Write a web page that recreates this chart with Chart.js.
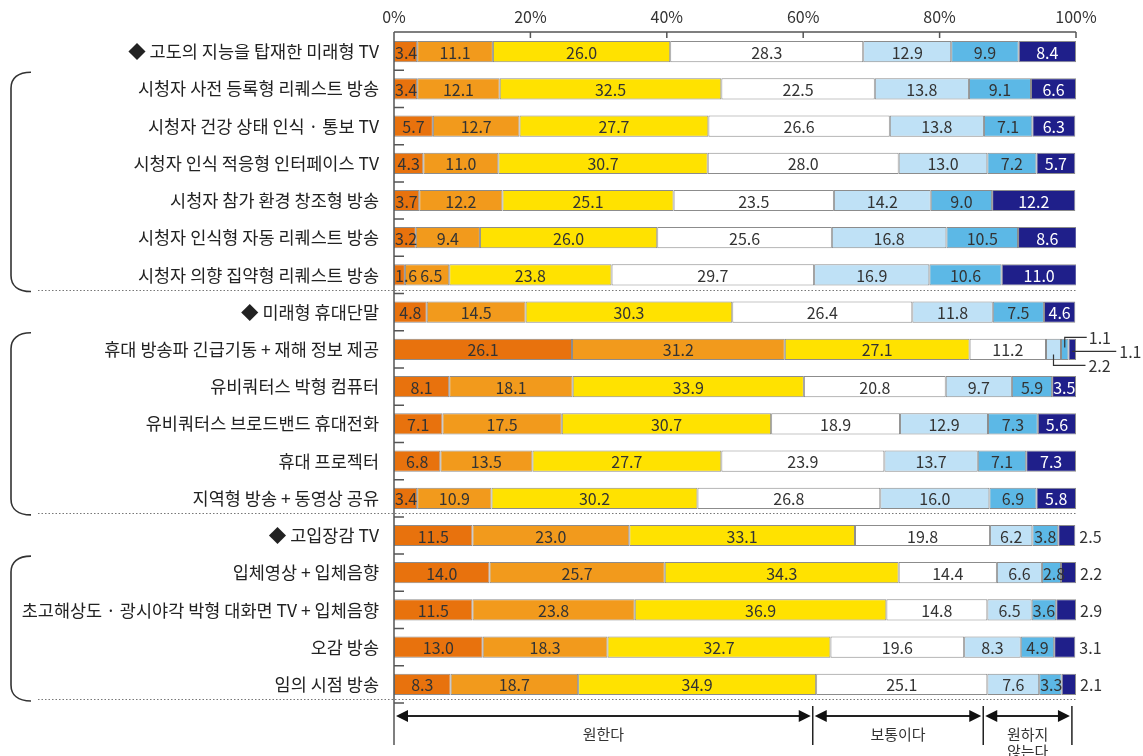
<!DOCTYPE html>
<html lang="ko">
<head>
<meta charset="utf-8">
<title>미래형 방송 서비스 이용 의향</title>
<script src="https://cdn.jsdelivr.net/npm/chart.js@4.4.1/dist/chart.umd.min.js"></script>
<style>
  html, body { margin: 0; padding: 0; background: #fff; }
  #wrap { width: 1143px; height: 756px; }
</style>
</head>
<body>
<div id="wrap"><canvas id="chart" width="1143" height="756"></canvas></div>
<script>
const categories = [
  '◆ 고도의 지능을 탑재한 미래형 TV',
  '시청자 사전 등록형 리퀘스트 방송',
  '시청자 건강 상태 인식 · 통보 TV',
  '시청자 인식 적응형 인터페이스 TV',
  '시청자 참가 환경 창조형 방송',
  '시청자 인식형 자동 리퀘스트 방송',
  '시청자 의향 집약형 리퀘스트 방송',
  '◆ 미래형 휴대단말',
  '휴대 방송파 긴급기동 + 재해 정보 제공',
  '유비쿼터스 박형 컴퓨터',
  '유비쿼터스 브로드밴드 휴대전화',
  '휴대 프로젝터',
  '지역형 방송 + 동영상 공유',
  '◆ 고입장감 TV',
  '입체영상 + 입체음향',
  '초고해상도 · 광시야각 박형 대화면 TV + 입체음향',
  '오감 방송',
  '임의 시점 방송'
];

// answer shares in %, from "strongly want" to "strongly don't want"
const want3 = [3.4, 3.4, 5.7, 4.3, 3.7, 3.2, 1.6, 4.8, 26.1, 8.1, 7.1, 6.8, 3.4, 11.5, 14.0, 11.5, 13.0, 8.3];
const want2 = [11.1, 12.1, 12.7, 11.0, 12.2, 9.4, 6.5, 14.5, 31.2, 18.1, 17.5, 13.5, 10.9, 23.0, 25.7, 23.8, 18.3, 18.7];
const want1 = [26.0, 32.5, 27.7, 30.7, 25.1, 26.0, 23.8, 30.3, 27.1, 33.9, 30.7, 27.7, 30.2, 33.1, 34.3, 36.9, 32.7, 34.9];
const neutral = [28.3, 22.5, 26.6, 28.0, 23.5, 25.6, 29.7, 26.4, 11.2, 20.8, 18.9, 23.9, 26.8, 19.8, 14.4, 14.8, 19.6, 25.1];
const notWant1 = [12.9, 13.8, 13.8, 13.0, 14.2, 16.8, 16.9, 11.8, 2.2, 9.7, 12.9, 13.7, 16.0, 6.2, 6.6, 6.5, 8.3, 7.6];
const notWant2 = [9.9, 9.1, 7.1, 7.2, 9.0, 10.5, 10.6, 7.5, 1.1, 5.9, 7.3, 7.1, 6.9, 3.8, 2.8, 3.6, 4.9, 3.3];
const notWant3 = [8.4, 6.6, 6.3, 5.7, 12.2, 8.6, 11.0, 4.6, 1.1, 3.5, 5.6, 7.3, 5.8, 2.5, 2.2, 2.9, 3.1, 2.1];

const xTicks = [0, 20, 40, 60, 80, 100];

// answer groups shown under the bars, split points in % of the x axis
const groupEdges = [0, 61.4, 86.4, 99.4];
const groupNames = [['원한다'], ['보통이다'], ['원하지', '않는다']];

// row ranges tied together by a bracket, and the rows closing each block
const bracketRows = [[1, 6], [8, 12], [14, 17]];
const blockEnds = [6, 12, 17];

const FONT = "'Noto Sans CJK KR', 'Noto Sans', sans-serif";
const INK = '#333';
const colors = ['#e8720d', '#f29a1c', '#ffe200', '#ffffff', '#bfe1f6', '#5cb8e6', '#1f1f8a'];
const series = [want3, want2, want1, neutral, notWant1, notWant2, notWant3];

Chart.defaults.font.family = FONT;

function arrowHead(ctx, x, y, dir) {
  ctx.beginPath();
  ctx.moveTo(x, y);
  ctx.lineTo(x - dir * 12, y - 6);
  ctx.lineTo(x - dir * 12, y + 6);
  ctx.closePath();
  ctx.fill();
}

const framePlugin = {
  id: 'frame',
  afterDatasetsDraw(chart) {
    const { ctx, chartArea: area, scales: { x, y } } = chart;
    const pitch = y.getPixelForValue(1) - y.getPixelForValue(0);
    ctx.save();
    ctx.strokeStyle = '#555';
    ctx.lineWidth = 1.5;

    // top axis line with ticks hanging down
    ctx.beginPath();
    ctx.moveTo(area.left, area.top - 1);
    ctx.lineTo(area.right, area.top - 1);
    xTicks.slice(1).forEach(v => {
      const px = x.getPixelForValue(v);
      ctx.moveTo(px, area.top - 1);
      ctx.lineTo(px, area.top + 5);
    });
    // left axis runs on into the answer group arrows
    ctx.moveTo(area.left, area.top - 1);
    ctx.lineTo(area.left, area.bottom + 42);
    // short marks between rows
    categories.forEach((c, i) => {
      const by = y.getPixelForValue(i) + pitch / 2;
      ctx.moveTo(area.left, by);
      ctx.lineTo(area.left + 10, by);
    });
    ctx.stroke();

    // dotted lines closing each block
    ctx.strokeStyle = '#777';
    ctx.lineWidth = 1;
    ctx.setLineDash([1.5, 2]);
    ctx.beginPath();
    blockEnds.forEach(r => {
      const dy = Math.round(y.getPixelForValue(r) + pitch / 2 - 4) + 0.5;
      ctx.moveTo(38, dy);
      ctx.lineTo(area.right, dy);
    });
    ctx.stroke();
    ctx.setLineDash([]);

    // brackets on the left
    ctx.strokeStyle = '#333';
    ctx.lineWidth = 1.6;
    bracketRows.forEach(([r0, r1]) => {
      const top = y.getPixelForValue(r0) - pitch / 2 + 2;
      const bottom = y.getPixelForValue(r1) + pitch / 2 - 2;
      ctx.beginPath();
      ctx.moveTo(31, top);
      ctx.bezierCurveTo(18, top, 11, top + 6, 11, top + 16);
      ctx.lineTo(11, bottom - 16);
      ctx.bezierCurveTo(11, bottom - 6, 18, bottom, 31, bottom);
      ctx.stroke();
    });

    // answer group arrows under the chart
    const ay = area.bottom + 13;
    const edges = groupEdges.map(v => x.getPixelForValue(v));
    ctx.strokeStyle = '#222';
    ctx.fillStyle = '#111';
    ctx.lineWidth = 1.5;
    ctx.beginPath();
    edges.slice(1).forEach(px => {
      ctx.moveTo(px, area.bottom + 3);
      ctx.lineTo(px, area.bottom + 42);
    });
    ctx.stroke();
    ctx.lineWidth = 2;
    ctx.font = '15px ' + FONT;
    ctx.textAlign = 'center';
    ctx.textBaseline = 'middle';
    for (let g = 0; g < groupNames.length; g++) {
      const x1 = edges[g] + 2, x2 = edges[g + 1] - 2;
      ctx.beginPath();
      ctx.moveTo(x1 + 6, ay);
      ctx.lineTo(x2 - 6, ay);
      ctx.stroke();
      arrowHead(ctx, x1, ay, -1);
      arrowHead(ctx, x2, ay, 1);
      ctx.fillStyle = INK;
      groupNames[g].forEach((t, k) => ctx.fillText(t, (x1 + x2) / 2, area.bottom + 31 + k * 17));
      ctx.fillStyle = '#111';
    }
    ctx.restore();
  }
};

const valuePlugin = {
  id: 'values',
  afterDatasetsDraw(chart) {
    const { ctx } = chart;
    ctx.save();
    ctx.font = '16px ' + FONT;
    ctx.textBaseline = 'middle';
    ctx.textAlign = 'center';
    categories.forEach((c, i) => {
      let prevRight = -Infinity;
      series.forEach((values, d) => {
        const v = values[i];
        const el = chart.getDatasetMeta(d).data[i];
        const text = v.toFixed(1);
        // the emergency-broadcast row has three slivers labelled by leader lines
        if (i === 8 && d >= 4) return;
        if (d === 6 && v < 3.2) {
          ctx.fillStyle = INK;
          ctx.textAlign = 'left';
          ctx.fillText(text, el.x + 4, el.y + 1);
          ctx.textAlign = 'center';
          return;
        }
        const w = ctx.measureText(text).width;
        let cx = (el.x + el.base) / 2;
        if (cx - w / 2 < el.base + 1) cx = el.base + 1 + w / 2;
        if (cx - w / 2 < prevRight + 3) cx = prevRight + 3 + w / 2;
        prevRight = cx + w / 2;
        ctx.fillStyle = d === 6 ? '#fff' : INK;
        ctx.fillText(text, cx, el.y + 1);
      });
    });

    // leader lines for row 9
    const mid = d => (chart.getDatasetMeta(d).data[8].x + chart.getDatasetMeta(d).data[8].base) / 2;
    const yc = chart.getDatasetMeta(4).data[8].y;
    ctx.strokeStyle = '#333';
    ctx.lineWidth = 1.2;
    ctx.fillStyle = INK;
    ctx.textAlign = 'left';
    ctx.beginPath();
    const xb = mid(5);
    ctx.moveTo(xb, yc - 2); ctx.lineTo(xb, yc - 12); ctx.lineTo(xb + 22, yc - 12);
    const xn = mid(6);
    ctx.moveTo(xn, yc + 2); ctx.lineTo(xn + 44, yc + 2);
    const xl = mid(4);
    ctx.moveTo(xl, yc + 5); ctx.lineTo(xl, yc + 16); ctx.lineTo(xl + 32, yc + 16);
    ctx.stroke();
    ctx.fillText(notWant2[8].toFixed(1), xb + 24, yc - 11);
    ctx.fillText(notWant3[8].toFixed(1), xn + 47, yc + 3);
    ctx.fillText(notWant1[8].toFixed(1), xl + 35, yc + 17);
    ctx.restore();
  }
};

new Chart(document.getElementById('chart'), {
  type: 'bar',
  data: {
    labels: categories,
    datasets: series.map((data, d) => ({
      data: data,
      backgroundColor: colors[d],
      borderColor: '#8c8c8c',
      borderWidth: 1,
      borderSkipped: false,
      barPercentage: 0.57,
      categoryPercentage: 1
    }))
  },
  options: {
    indexAxis: 'y',
    responsive: false,
    animation: false,
    layout: { padding: { left: 0, right: 67, top: 0, bottom: 53 } },
    plugins: {
      legend: { display: false },
      tooltip: { enabled: false }
    },
    scales: {
      x: {
        position: 'top',
        stacked: true,
        min: 0,
        max: 100,
        afterBuildTicks: scale => { scale.ticks = xTicks.map(v => ({ value: v })); },
        afterFit: scale => { scale.height = 33; },
        ticks: {
          callback: v => v + '%',
          font: { size: 16 },
          color: INK,
          padding: 6,
          maxRotation: 0
        },
        grid: { display: false, drawTicks: false },
        border: { display: false }
      },
      y: {
        stacked: true,
        afterFit: scale => { scale.width = 394; },
        ticks: {
          font: { size: 17.5 },
          color: '#222',
          padding: 15,
          autoSkip: false
        },
        grid: { display: false, drawTicks: false },
        border: { display: false }
      }
    }
  },
  plugins: [framePlugin, valuePlugin]
});
</script>
</body>
</html>
